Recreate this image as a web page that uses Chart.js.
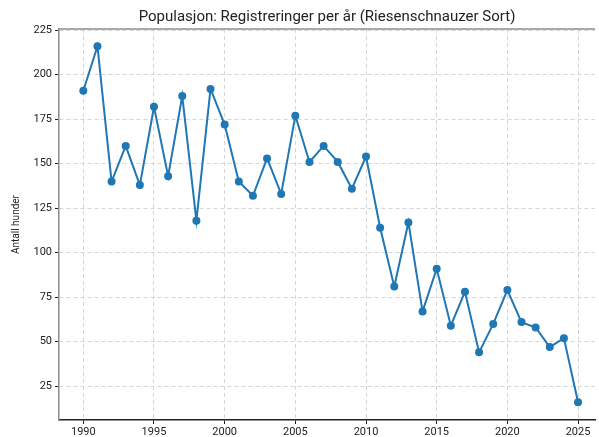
<!DOCTYPE html>
<html lang="no">
<head>
<meta charset="UTF-8">
<title>Populasjon: Registreringer per år</title>
<script src="https://cdn.jsdelivr.net/npm/chart.js"></script>
<style>
  html, body { margin: 0; padding: 0; background: #fff; overflow: hidden; }
  #wrap { width: 599px; height: 437px; position: relative; }
</style>
</head>
<body>
<div id="wrap"><canvas id="chart"></canvas></div>
<script>
// data
const years = [1990, 1991, 1992, 1993, 1994, 1995, 1996, 1997, 1998, 1999,
               2000, 2001, 2002, 2003, 2004, 2005, 2006, 2007, 2008, 2009,
               2010, 2011, 2012, 2013, 2014, 2015, 2016, 2017, 2018, 2019,
               2020, 2021, 2022, 2023, 2024, 2025];
const registrations = [191, 216, 140, 160, 138, 182, 143, 188, 118, 192,
                       172, 140, 132, 153, 133, 177, 151, 160, 151, 136,
                       154, 114, 81, 117, 67, 91, 59, 78, 44, 60,
                       79, 61, 58, 47, 52, 16];
const xTicks = [1990, 1995, 2000, 2005, 2010, 2015, 2020, 2025];
const yTicks = [25, 50, 75, 100, 125, 150, 175, 200, 225];

const chartTitle = 'Populasjon: Registreringer per år (Riesenschnauzer Sort)';
const FONT = 'Roboto, "DejaVu Sans", sans-serif';

// tittel sentrert over plottet + topp-ramme
const framePlugin = {
  id: 'frame',
  afterDraw(chart) {
    const { ctx, chartArea: a } = chart;
    ctx.save();
    ctx.strokeStyle = '#8c8c8c';
    ctx.lineWidth = 1.5;
    ctx.beginPath();
    ctx.moveTo(a.left, a.top);
    ctx.lineTo(a.right, a.top);
    ctx.stroke();
    ctx.fillStyle = '#222';
    ctx.font = '15px ' + FONT;
    ctx.textAlign = 'center';
    ctx.textBaseline = 'alphabetic';
    ctx.fillText(chartTitle, (a.left + a.right) / 2, a.top - 8);
    ctx.restore();
  }
};

new Chart(document.getElementById('chart'), {
  type: 'line',
  data: {
    datasets: [{
      label: 'Registreringer',
      data: years.map((y, i) => ({ x: y, y: registrations[i] })),
      borderColor: '#1f77b4',
      backgroundColor: '#1f77b4',
      borderWidth: 2,
      pointRadius: 4,
      pointHoverRadius: 4,
      pointBorderWidth: 0,
      tension: 0
    }]
  },
  options: {
    responsive: true,
    maintainAspectRatio: false,
    animation: false,
    layout: { padding: { top: 29, right: 0, left: 0, bottom: 0 } },
    plugins: {
      legend: { display: false },
      title: { display: false },
      tooltip: { enabled: false }
    },
    scales: {
      x: {
        type: 'linear',
        min: 1988.28,
        max: 2026.2,
        afterBuildTicks: s => { s.ticks = xTicks.map(v => ({ value: v })); },
        afterFit: s => { s.height = 17; },
        grid: {
          color: '#d6d6d6',
          lineWidth: 1,
          tickColor: '#222',
          tickLength: 4,
          tickBorderDash: []
        },
        border: { display: true, color: '#222', width: 1.5, dash: [4, 3] },
        ticks: {
          color: '#222',
          font: { family: FONT, size: 11 },
          padding: 2,
          maxRotation: 0,
          callback: v => String(v)
        }
      },
      y: {
        min: 6,
        max: 225.7,
        afterBuildTicks: s => { s.ticks = yTicks.map(v => ({ value: v })); },
        afterFit: s => { s.width = 59; },
        grid: {
          color: '#d6d6d6',
          lineWidth: 1,
          tickColor: '#222',
          tickLength: 4,
          tickBorderDash: []
        },
        border: { display: true, color: '#8c8c8c', width: 1.5, dash: [4, 3] },
        ticks: {
          color: '#222',
          font: { family: FONT, size: 11 },
          padding: 3
        },
        title: {
          display: true,
          text: 'Antall hunder',
          color: '#222',
          font: { family: FONT, size: 10 },
          padding: { top: 10, bottom: 0 }
        }
      }
    }
  },
  plugins: [framePlugin]
});
</script>
</body>
</html>
